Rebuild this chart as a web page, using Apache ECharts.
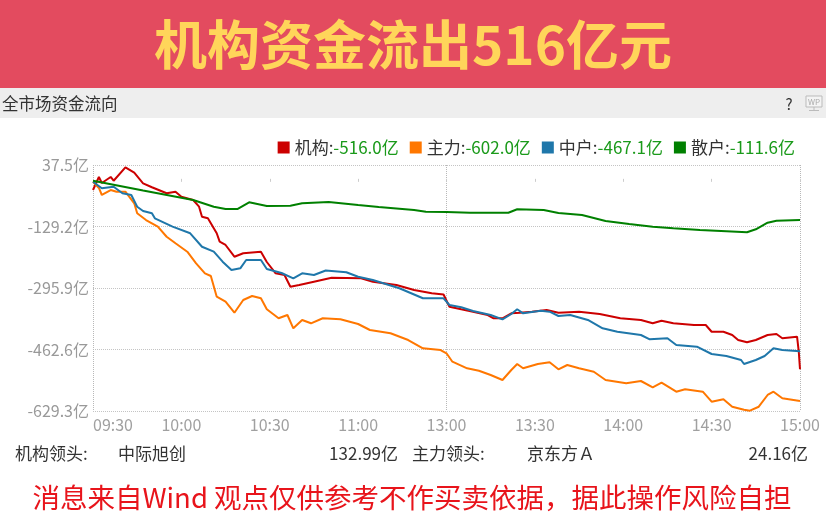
<!DOCTYPE html>
<html>
<head>
<meta charset="utf-8">
<script src="https://cdn.jsdelivr.net/npm/echarts@6/dist/echarts.min.js"></script>
<style>
html,body{margin:0;padding:0;background:#fff;}
#chart{width:826px;height:529px;}
</style>
</head>
<body>
<div id="chart"></div>
<script>
// ---- data (minute index from 09:30, value in 亿) ----
var seriesNames = ['机构', '主力', '中户', '散户'];
var legendValues = ['-516.0亿', '-602.0亿', '-467.1亿', '-111.6亿'];
var xTickLabels = ['09:30', '10:00', '10:30', '11:00', '13:00', '13:30', '14:00', '14:30', '15:00'];
var yTickLabels = ['-629.3亿', '-462.6亿', '-295.9亿', '-129.2亿', '37.5亿'];

var jigou = [[0,-30.3],[2,5.0],[3,-11.3],[6,5.0],[7,-5.1],[11,31.3],[14,16.6],[17,-12.1],[20,-22.9],[25,-39.2],[28,-34.9],[30,-48.4],[34,-57.4],[36,-75.5],[37,-102.6],[39,-107],[42,-147.6],[43,-170.4],[45,-179.3],[48,-211.1],[51,-201.8],[57,-197.5],[59,-225.4],[62,-256.1],[65,-260.7],[67,-292.4],[70,-287.8],[75,-278.8],[81,-268],[91,-269.6],[95,-278.8],[103,-287.8],[109,-301.3],[115,-310.3],[119,-313.5],[121,-346.6],[125,-353.6],[129,-360.1],[134,-369.1],[136,-378],[139,-378],[142,-364.5],[145,-362.9],[149,-360.1],[154,-355.5],[158,-362.9],[165,-360.1],[172,-366.4],[179,-378],[186,-382.6],[190,-391.6],[193,-384.5],[197,-391.6],[204,-396.2],[208,-396.2],[210,-414.4],[214,-414.4],[217,-423.3],[219,-436.9],[222,-443.1],[225,-436.9],[229,-423.3],[232,-420.6],[234,-432.2],[239,-427.9],[239.6,-470],[240,-516.0]];

var zhuli = [[0,-7.8],[2,-24.8],[3,-43.8],[6,-30.3],[8,-34.9],[11,-34.9],[14,-66.3],[15,-93.4],[18,-111.6],[22,-129.7],[25,-156.9],[28,-174.7],[32,-197.5],[35,-229],[38,-256.1],[40,-263.4],[42,-319.5],[45,-333],[48,-362.9],[51,-328.4],[54,-317.6],[57,-323.8],[59,-353.6],[63,-378],[66,-369.1],[68,-405.2],[71,-382.6],[74,-391.6],[78,-378],[84,-380.8],[90,-393.5],[94,-409.7],[101,-418.7],[107,-436.9],[112,-459.4],[118,-464],[120,-472.9],[122,-495.7],[127,-513.6],[131,-520.1],[135,-531.7],[139,-545.3],[142,-518.2],[144,-501.9],[146,-513.6],[151,-501.9],[155,-497.3],[158,-516.3],[161,-504.6],[165,-513.6],[170,-522.8],[174,-545.3],[181,-554.2],[186,-548],[190,-565.1],[193,-552.6],[198,-577],[201,-570.5],[207,-577],[210,-604.1],[214,-597.6],[217,-617.7],[221,-626],[223,-628.5],[226,-617.7],[229,-585.9],[231,-577],[234,-594.9],[240,-602.0]];

var zhonghu = [[0,-7.8],[3,-25.7],[7,-21.3],[10,-39.2],[13,-43.8],[15,-75.5],[17,-87.2],[20,-93.4],[21,-107],[27,-129.7],[33,-147.6],[37,-184],[41,-197.5],[44,-224.6],[47,-247.1],[50,-242.5],[52,-220],[57,-220],[59,-244.4],[64,-255.2],[68,-269.6],[71,-256.1],[75,-260.7],[79,-248.5],[86,-253.1],[90,-265.3],[95,-274.2],[104,-296.7],[112,-323.8],[119,-323.8],[121,-342],[125,-348.2],[129,-358.2],[135,-369.1],[139,-380.8],[142,-366.4],[144,-353.6],[146,-364.5],[152,-357.4],[155,-360.1],[158,-371.8],[162,-369.1],[168,-382.6],[173,-405.2],[178,-414.4],[186,-423.3],[189,-435],[195,-432.2],[198,-450.4],[205,-455],[210,-474.8],[215,-480.2],[220,-491.1],[221,-501.9],[225,-491.1],[228,-480.2],[231,-459.4],[234,-464],[240,-467.1]];

var sanhu = [[0,-5.1],[17,-31.6],[34,-57.4],[41,-75.5],[45,-81.8],[49,-81.8],[53,-63.6],[59,-73.6],[67,-72.8],[71,-66.3],[80,-62.8],[90,-70.9],[97,-76.3],[109,-84.5],[113,-89.1],[120,-89.9],[128,-91.8],[141,-91.8],[144,-82.6],[153,-84.5],[158,-92.6],[166,-98],[174,-114.3],[182,-122.4],[190,-129.7],[197,-134.1],[206,-138.7],[215,-142.2],[222,-144.9],[225,-136.8],[229,-118.9],[232,-113.5],[240,-111.6]];

var seriesColors = ['#cc0000', '#ff7700', '#1f77aa', '#008000'];
var seriesData = [jigou, zhuli, zhonghu, sanhu];

var FONT = '"Noto Sans CJK SC", "Microsoft YaHei", sans-serif';
var chart = echarts.init(document.getElementById('chart'), null, {renderer: 'canvas'});

function txt(x, y, text, size, color, align, weight) {
  return {
    type: 'text', x: x, y: y, silent: true,
    style: {
      text: text, fill: color, font: (weight || 'normal') + ' ' + size + 'px ' + FONT,
      textAlign: align || 'left', textVerticalAlign: 'middle'
    }
  };
}

var option = {
  backgroundColor: '#ffffff',
  animation: false,
  textStyle: {fontFamily: FONT},
  grid: {left: 93, right: 26, top: 165, bottom: 118, containLabel: false, outerBoundsMode: 'none'},
  legend: {
    data: seriesNames,
    right: 26, top: 134,
    icon: 'rect', itemWidth: 12, itemHeight: 12, itemGap: 11,
    selectedMode: false,
    formatter: function (name) {
      var i = seriesNames.indexOf(name);
      return '{n|' + name + ':}{v|' + legendValues[i] + '}';
    },
    textStyle: {
      fontFamily: FONT,
      rich: {
        n: {color: '#333333', fontSize: 17, fontFamily: FONT},
        v: {color: '#1a9a1a', fontSize: 17, fontFamily: FONT}
      }
    }
  },
  xAxis: [{
    type: 'value', min: 0, max: 240, interval: 30,
    axisLine: {show: false},
    axisTick: {show: true, length: 3, lineStyle: {color: '#cccccc'}},
    splitLine: {show: false},
    axisLabel: {
      color: '#a0a0a0', fontSize: 16, margin: 6, fontFamily: FONT,
      alignMinLabel: 'left',
      formatter: function (v) { return xTickLabels[Math.round(v / 30)]; }
    }
  }, {
    type: 'value', min: 0, max: 240, interval: 120, position: 'bottom',
    axisLine: {show: false}, axisTick: {show: false}, axisLabel: {show: false},
    splitLine: {show: true, lineStyle: {type: 'dotted', color: '#b8b8b8', width: 1}}
  }],
  yAxis: [{
    type: 'value', min: -629.3, max: 37.5, show: false, position: 'left',
    splitLine: {show: false}
  }, {
    type: 'category', data: yTickLabels, boundaryGap: false, position: 'left',
    axisLine: {show: false},
    axisTick: {show: false},
    axisLabel: {color: '#999999', fontSize: 16, margin: 4, fontFamily: FONT},
    splitLine: {show: true, interval: 0, lineStyle: {type: 'dotted', color: '#c4c4c4', width: 1}}
  }],
  series: seriesNames.map(function (n, i) {
    return {
      name: n, type: 'line', xAxisIndex: 0, yAxisIndex: 0,
      data: seriesData[i], showSymbol: false, symbol: 'none',
      lineStyle: {color: seriesColors[i], width: 2},
      itemStyle: {color: seriesColors[i]},
      z: 3 + i
    };
  }),
  graphic: [
    {type: 'rect', silent: true, shape: {x: 0, y: 0, width: 826, height: 88}, style: {fill: '#e34b5f'}},
    txt(413, 45, '机构资金流出516亿元', 53, '#ffd55a', 'center', 'bold'),
    {type: 'rect', silent: true, shape: {x: 0, y: 88, width: 826, height: 30}, style: {fill: '#eeeeee'}},
    txt(2, 104, '全市场资金流向', 16.5, '#333333', 'left'),
    txt(789, 104, '?', 15, '#333333', 'center'),
    {type: 'rect', silent: true, shape: {x: 806, y: 96, width: 16, height: 11}, style: {fill: '#f4f4f4', stroke: '#bbbbbb', lineWidth: 1}},
    txt(814, 101.5, 'WP', 8, '#aaaaaa', 'center'),
    {type: 'line', silent: true, shape: {x1: 814, y1: 107, x2: 814, y2: 110}, style: {stroke: '#bbbbbb', lineWidth: 1}},
    {type: 'line', silent: true, shape: {x1: 809, y1: 110.5, x2: 819, y2: 110.5}, style: {stroke: '#bbbbbb', lineWidth: 1}},
    txt(15, 454, '机构领头:', 17, '#333333', 'left'),
    txt(118, 454, '中际旭创', 17, '#333333', 'left'),
    txt(398, 454, '132.99亿', 17, '#333333', 'right'),
    txt(412, 454, '主力领头:', 17, '#333333', 'left'),
    txt(527, 454, '京东方Ａ', 17, '#333333', 'left'),
    txt(808, 454, '24.16亿', 17, '#333333', 'right'),
    txt(412, 498, '消息来自Wind 观点仅供参考不作买卖依据，据此操作风险自担', 27.5, '#e8141b', 'center')
  ]
};
chart.setOption(option);
</script>
</body>
</html>
